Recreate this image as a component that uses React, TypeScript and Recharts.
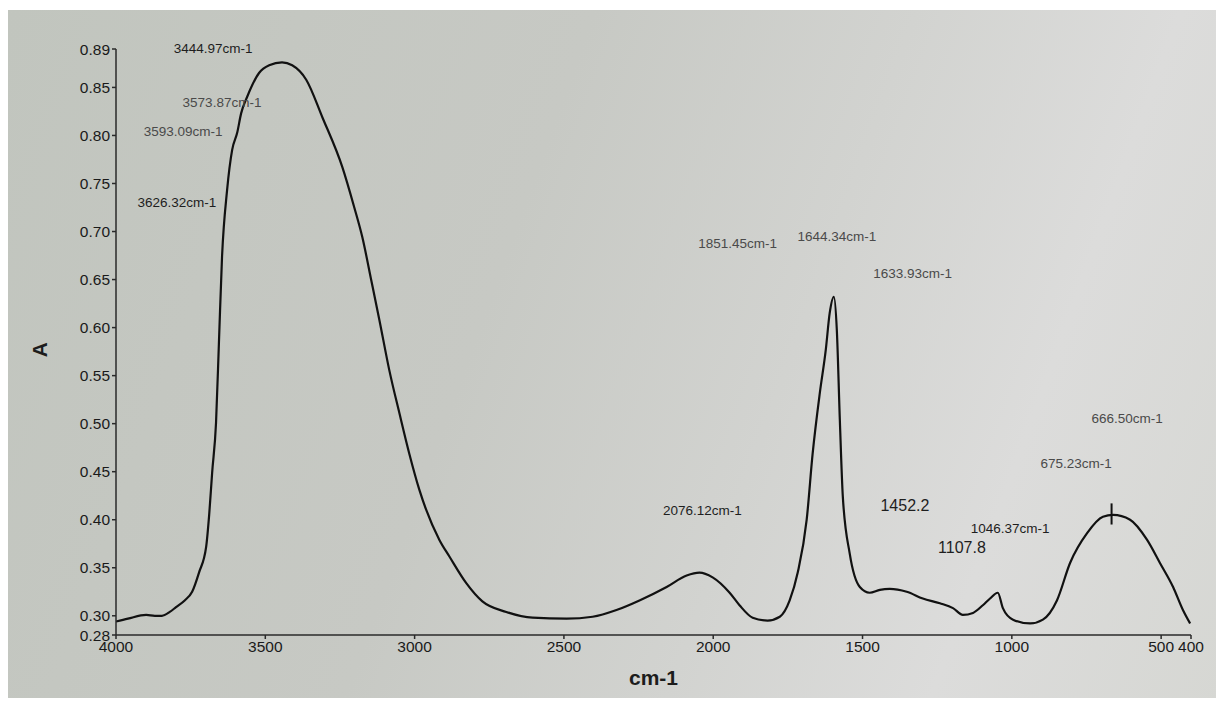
import {
  Line,
  LineChart,
  ReferenceDot,
  ReferenceLine,
  XAxis,
  YAxis,
} from 'recharts'

// FTIR spectrum
const wavenumbers = [
  4000, 3960, 3899, 3870, 3846, 3820, 3799, 3770, 3745, 3722, 3698, 3688, 3678, 3665, 3655,
  3645, 3628, 3611, 3594, 3581, 3561, 3521, 3487, 3444, 3410, 3363, 3309, 3242, 3202, 3175,
  3145, 3118, 3085, 3051, 3018, 2984, 2917, 2884, 2827, 2773, 2693, 2605, 2491, 2404, 2324, 2247, 2156,
  2089, 2046, 2002, 1945, 1912, 1868, 1818, 1777, 1744, 1717, 1687, 1667, 1643, 1623, 1610,
  1596, 1586, 1576, 1566, 1543, 1509, 1476, 1442, 1409, 1352, 1298, 1241, 1197, 1164, 1130,
  1097, 1073, 1047, 1030, 996, 939, 896, 849, 805, 748, 695, 661, 604, 547, 504, 460, 427, 403,
]

const absorbance = [
  0.294, 0.297, 0.301, 0.3, 0.3, 0.304, 0.309, 0.316, 0.325, 0.345, 0.372, 0.405, 0.449, 0.501, 0.587,
  0.673, 0.743, 0.785, 0.803, 0.823, 0.84, 0.865, 0.873, 0.876, 0.873, 0.858, 0.819, 0.767, 0.725, 0.694,
  0.649, 0.608, 0.556, 0.511, 0.469, 0.431, 0.379, 0.362, 0.334, 0.315, 0.304, 0.298, 0.297, 0.299, 0.306, 0.316, 0.33,
  0.342, 0.345, 0.34, 0.324, 0.311, 0.298, 0.295, 0.299, 0.316, 0.345, 0.4, 0.469, 0.532, 0.577, 0.615,
  0.632, 0.597, 0.504, 0.424, 0.365, 0.33, 0.324, 0.327, 0.328, 0.325, 0.318, 0.313, 0.308, 0.301, 0.303,
  0.311, 0.318, 0.324, 0.308, 0.296, 0.292, 0.296, 0.316, 0.355, 0.386, 0.403, 0.405, 0.4, 0.379, 0.355, 0.33, 0.306, 0.292,
]

const xTicks = [4000, 3500, 3000, 2500, 2000, 1500, 1000, 500, 400]
const yTicks = [0.28, 0.3, 0.35, 0.4, 0.45, 0.5, 0.55, 0.6, 0.65, 0.7, 0.75, 0.8, 0.85, 0.89]

// peak labels printed on the sheet, anchored in data units
const peakLabels = [
  '3444.97cm-1', '3573.87cm-1', '3593.09cm-1', '3626.32cm-1',
  '1851.45cm-1', '1644.34cm-1', '1633.93cm-1', '666.50cm-1',
  '675.23cm-1', '2076.12cm-1', '1452.2', '1046.37cm-1', '1107.8',
]
const peakLabelWn = [3675, 3645, 3775, 3796, 1918, 1586, 1332, 614, 785, 2036, 1358, 1006, 1167]
const peakLabelA = [0.891, 0.835, 0.804, 0.731, 0.688, 0.695, 0.657, 0.506, 0.459, 0.41, 0.415, 0.391, 0.371]

const data = wavenumbers.map((wn, i) => ({ wn, a: absorbance[i] }))

const font = '"Liberation Sans", Arial, sans-serif'
const tickStyle = { fontSize: 15.5, fill: '#1a1a1a', fontFamily: font }

export default function App() {
  return (
    <div
      style={{
        width: 1216,
        height: 688,
        marginTop: 2,
        background:
          'linear-gradient(110deg, #c1c5be 0%, #c7c9c4 40%, #d2d3d0 62%, #dcdcdb 80%, #d6d7d3 100%)',
      }}
    >
      <LineChart width={1216} height={688} data={data} margin={{ top: 39, right: 33, bottom: 33, left: 46 }}>
        <XAxis
          dataKey="wn"
          type="number"
          domain={[400, 4000]}
          reversed
          ticks={xTicks}
          interval={0}
          tick={tickStyle}
          tickSize={4}
          height={30}
          stroke="#2a2a2a"
          strokeWidth={1.5}
          allowDataOverflow
          label={{ value: 'cm-1', position: 'bottom', offset: 5, fontSize: 21, fontWeight: 'bold', fill: '#1c1c1c', fontFamily: font }}
        />
        <YAxis
          type="number"
          domain={[0.28, 0.89]}
          ticks={yTicks}
          interval={0}
          tickFormatter={(v: number) => v.toFixed(2)}
          tick={tickStyle}
          tickSize={4}
          width={62}
          stroke="#2a2a2a"
          strokeWidth={1.5}
          allowDataOverflow
          label={{ value: 'A', angle: -90, position: 'left', offset: 14, fontSize: 21, fontWeight: 'bold', fill: '#1c1c1c', fontFamily: font }}
        />
        <Line
          type="monotone"
          dataKey="a"
          stroke="#111"
          strokeWidth={2.2}
          dot={false}
          isAnimationActive={false}
        />
        <ReferenceLine
          segment={[{ x: 666, y: 0.395 }, { x: 666, y: 0.417 }]}
          stroke="#111"
          strokeWidth={2}
          ifOverflow="visible"
        />
        {peakLabels.map((text, i) => {
          const big = !text.includes('cm')
          const dark = big || text.startsWith('2076') || text.startsWith('3444') || text.startsWith('3626') || text.startsWith('1046')
          return (
            <ReferenceDot
              key={text}
              x={peakLabelWn[i]}
              y={peakLabelA[i]}
              r={0}
              fill="none"
              stroke="none"
              ifOverflow="visible"
              label={{
                value: text,
                position: 'center',
                fontSize: big ? 16 : 13.5,
                fill: dark ? '#1e1e1e' : '#4a4a4a',
                fontFamily: font,
              }}
            />
          )
        })}
      </LineChart>
    </div>
  )
}
